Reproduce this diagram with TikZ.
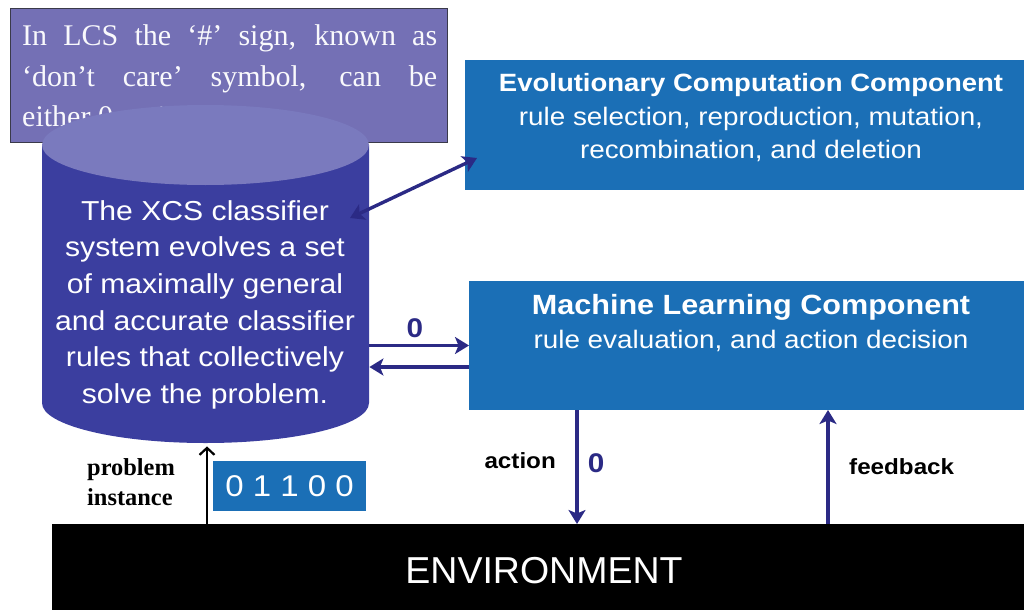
\documentclass[tikz,border=0pt]{standalone}
\usepackage{fontspec}
\setmainfont{Liberation Serif}
\setsansfont{Liberation Sans}
\newfontfamily\slidesans{Liberation Sans}[FakeStretch=1.1]
\usetikzlibrary{arrows.meta}

\definecolor{notefill}{HTML}{7470B5}
\definecolor{noteedge}{HTML}{3A3A4A}
\definecolor{cylbody}{HTML}{3B3E9F}
\definecolor{cyltop}{HTML}{7A7ABE}
\definecolor{compblue}{HTML}{1B6FB6}
\definecolor{flownavy}{HTML}{2B2A85}

\begin{document}
\begin{tikzpicture}[x=1pt,y=-1pt,
  panel/.style={fill=compblue, draw=none, inner sep=0pt, outer sep=0pt, anchor=north west},
  paneltitle/.style={anchor=base, text=white, inner sep=0pt,
    font=\slidesans\bfseries\fontsize{25}{30}\selectfont},
  paneltext/.style={anchor=base, text=white, inner sep=0pt,
    font=\slidesans\fontsize{25.3}{30}\selectfont},
  tag/.style={anchor=base, inner sep=0pt,
    font=\slidesans\bfseries\fontsize{22}{26}\selectfont},
  bit/.style={anchor=base, inner sep=0pt, text=flownavy,
    font=\slidesans\bfseries\fontsize{27}{30}\selectfont},
  flow/.style={draw=flownavy, line width=3.4pt,
    >={Stealth[length=14pt,width=17pt,inset=3.5pt]}, ->},
  feed/.style={draw=black, line width=2.2pt,
    -{Straight Barb[length=7pt,width=15pt]}}]

\useasboundingbox (0,0) rectangle (1024,610);

% note about the don't-care symbol
\node[fill=notefill, draw=noteedge, line width=0.8pt, inner sep=0pt,
      minimum width=437pt, minimum height=134pt, anchor=north west]
      (note) at (10,8) {};
\node[anchor=north west, inner sep=0pt, text width=415pt, align=justify,
      text=white!96!notefill, font=\fontsize{30}{40.5}\selectfont] (notetext) at (22,24.5)
  {In LCS the ‘\#’ sign, known as\linebreak
   ‘don’t care’ symbol, can be\linebreak
   either 0 or 1.};

% rule population drawn as a cylinder
\node[inner sep=0pt, minimum width=327pt, minimum height=338pt, anchor=north west]
      (xcs) at (42,105) {};
\fill[cylbody] (42,145) -- (42,403)
  arc[start angle=180, end angle=360, x radius=163.5pt, y radius=40pt]
  -- (369,145) -- cycle;
\fill[cyltop] (205.5,145) ellipse[x radius=163.5pt, y radius=40pt];
\node[anchor=north, inner sep=0pt, align=center, text=white,
      font=\slidesans\fontsize{27.4}{36.6}\selectfont] (xcstext) at (205,200.3)
  {The XCS classifier\\ system evolves a set\\ of maximally general\\
   and accurate classifier\\ rules that collectively\\ solve the problem.};

% evolutionary computation component
\node[panel, minimum width=559pt, minimum height=130pt] (ec) at (465,60) {};
\node[paneltitle] (ectitle) at (751,91) {Evolutionary Computation Component};
\node[paneltext] (ecline1) at (751,125) {rule selection, reproduction, mutation,};
\node[paneltext] (ecline2) at (751,158) {recombination, and deletion};

% machine learning component
\node[panel, minimum width=555pt, minimum height=129pt] (ml) at (469,281) {};
\node[paneltitle, font=\slidesans\bfseries\fontsize{27.8}{32}\selectfont]
      (mltitle) at (751,314) {Machine Learning Component};
\node[paneltext] (mlline1) at (751,348) {rule evaluation, and action decision};

% environment
\node[fill=black, inner sep=0pt, minimum width=972pt, minimum height=86pt,
      anchor=north west] (env) at (52,524) {};
\node[anchor=base, inner sep=0pt, text=white,
      font=\sffamily\fontsize{37.5}{40}\selectfont] (envlabel) at (544,583) {ENVIRONMENT};

% encoded problem instance
\node[panel, minimum width=153pt, minimum height=50pt, text=white,
      font=\slidesans\fontsize{30}{34}\selectfont] (bits) at (213,461) {0 1 1 0 0};
\node[anchor=north west, inner sep=0pt, align=left,
      font=\bfseries\fontsize{24.4}{30}\selectfont] (problabel) at (87,458.5)
  {problem\\ instance};

% connectors
\coordinate (xcsport) at (350,218);
\coordinate (ecport) at (477,158);
\coordinate (actx) at (577,0);
\coordinate (fbx) at (828,0);
\coordinate (probx) at (207,0);

\draw[flow, <->] (xcsport) -- (ecport);
\draw[flow] (xcs.east |- ml.west) -- (ml.west);
\draw[flow] ([yshift=-21.5pt]ml.west) -- ([yshift=-21.5pt]ml.west -| xcs.east);
\draw[flow] (ml.south -| actx) -- (env.north -| actx);
\draw[flow] (env.north -| fbx) -- (ml.south -| fbx);
\draw[feed] (env.north -| probx) -- ([yshift=-3pt]xcs.south -| probx);

% labels on the connectors
\node[bit] (bitml) at (415,337) {0};
\node[bit] (bitact) at (596,472) {0};
\node[tag, anchor=base east] (actlabel) at (556,468) {action};
\node[tag, anchor=base west] (fblabel) at (849,474) {feedback};
\end{tikzpicture}
\end{document}
